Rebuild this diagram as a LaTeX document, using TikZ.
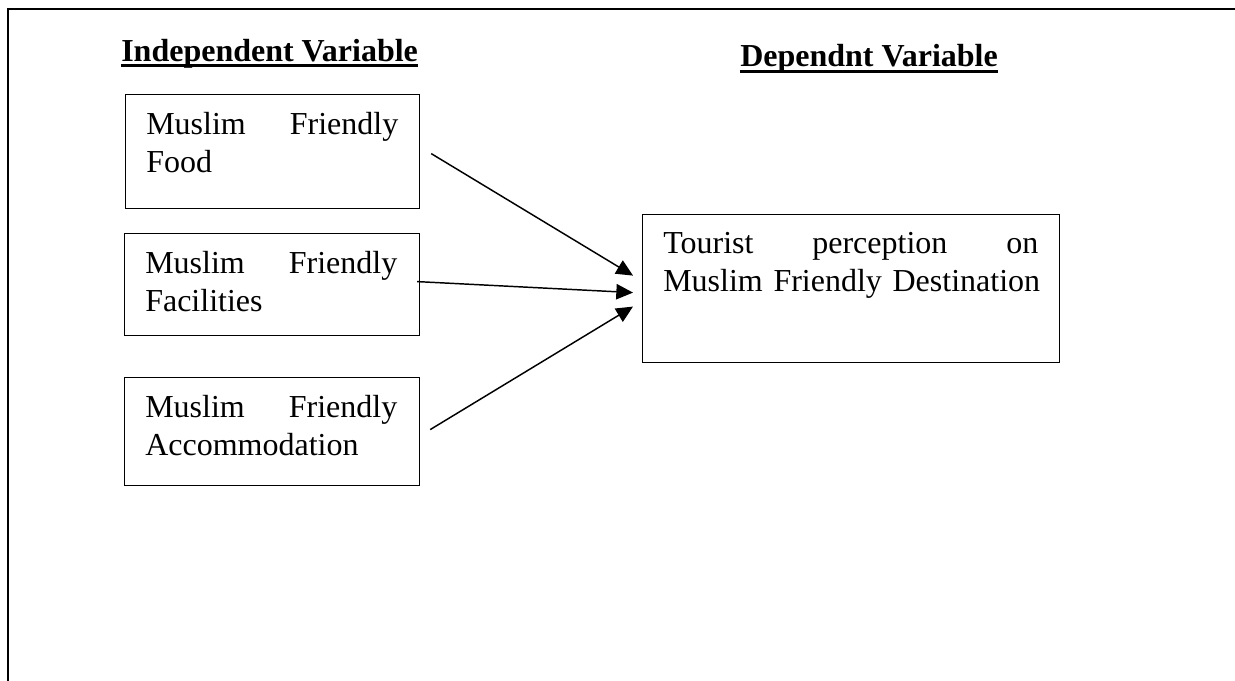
\documentclass[tikz,border=0pt]{standalone}
\usepackage{fontspec}
\setmainfont{Liberation Serif}
\usetikzlibrary{arrows.meta,calc}
\begin{document}
\begin{tikzpicture}[x=0.75pt,y=-0.75pt,
  boxst/.style={draw,line width=0.9pt,inner sep=0pt,anchor=north west},
  txt/.style={inner sep=0pt,anchor=north west,align=left,font=\fontsize{24}{28.5}\selectfont},
  titlest/.style={inner sep=0pt,anchor=base west,font=\bfseries\fontsize{24}{28.5}\selectfont},
  ul/.style={line width=2.25pt},
  arr/.style={line width=1.1pt,-{Triangle[length=12.5pt,width=11.5pt]}},
  framest/.style={line width=1.6pt}]
\useasboundingbox (0,0) rectangle (1235,681);
% outer frame
\coordinate (fbl) at (8,681);
\coordinate (ftl) at (8,9);
\coordinate (ftr) at (1236,9);
\draw[framest] (fbl) -- (ftl) -- (ftr);
% titles
\node[titlest] (indep) at (121,62) {Independent Variable};
\draw[ul] ($(indep.base west)+(0,4)$) -- ($(indep.base east)+(0,4)$);
\node[titlest] (depend) at (740,67) {Dependnt Variable};
\draw[ul] ($(depend.base west)+(0,4.5)$) -- ($(depend.base east)+(0,4.5)$);
% boxes
\node[boxst,minimum width=220.5pt,minimum height=85.5pt] (food) at (125,94) {};
\node[boxst,minimum width=221.25pt,minimum height=76.5pt] (fac) at (124,233) {};
\node[boxst,minimum width=221.25pt,minimum height=81pt] (acc) at (124,377) {};
\node[boxst,minimum width=312.75pt,minimum height=111pt] (dest) at (642,214) {};
% texts
\node[txt,text width=189pt] (foodt) at (146,107.33) {\noindent\rule{0pt}{20pt}Muslim\hfill Friendly\\Food};
\node[txt,text width=189pt] (fact) at (145,246.33) {\noindent\rule{0pt}{20pt}Muslim\hfill Friendly\\Facilities};
\node[txt,text width=189pt] (acct) at (145,390.33) {\noindent\rule{0pt}{20pt}Muslim\hfill Friendly\\Accommodation};
\node[txt,text width=281.25pt] (destt) at (663,226.33) {\noindent\rule{0pt}{20pt}Tourist\hfill perception\hfill on\\\mbox{Muslim Friendly Destination}};
% arrows
\draw[arr] ($(food.east)+(11,2)$) -- ($(dest.west)+(-9,-13)$);
\draw[arr] ($(fac.east)+(-3,-3)$) -- ($(dest.west)+(-9,4)$);
\draw[arr] ($(acc.east)+(10,-2)$) -- ($(dest.west)+(-9,18)$);
\end{tikzpicture}
\end{document}
